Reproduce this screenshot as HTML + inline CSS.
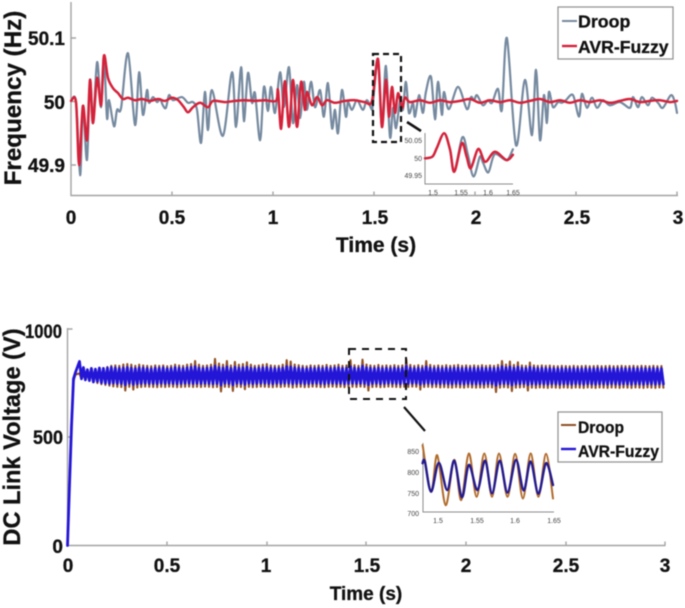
<!DOCTYPE html>
<html lang="en">
<head>
<meta charset="utf-8">
<title>Frequency and DC link voltage comparison</title>
<style>
html,body{margin:0;padding:0;background:#fff;width:685px;height:608px;overflow:hidden}
svg{display:block;filter:blur(.6px);font-family:"Liberation Sans",sans-serif}
.tick{font-weight:700;fill:#111;stroke:#111;stroke-width:.3px;font-size:19px;text-anchor:middle}
.ytick{font-weight:700;fill:#111;stroke:#111;stroke-width:.3px;font-size:19px;text-anchor:end}
.title{font-weight:700;fill:#111;stroke:#111;stroke-width:.3px}
.leg{font-weight:700;fill:#111;stroke:#111;stroke-width:.3px}
.ax{stroke:#a3a3a3;stroke-width:1.4;fill:none}
.iax{stroke:#8c8c8c;stroke-width:1;fill:none}
.it{font-size:7px;fill:#444;text-anchor:middle}
.ity{font-size:7px;fill:#444;text-anchor:end}
.c{fill:none;stroke-linejoin:round;stroke-linecap:round}
</style>
</head>
<body>
<svg width="685" height="608" viewBox="0 0 685 608" xmlns="http://www.w3.org/2000/svg">
<g>
  <path class="ax" d="M71 2V195.5H678"/>
  <path class="ax" d="M71 38h5M71 101.5h5M71 165h5M172 195.5v-4M273 195.5v-4M374 195.5v-4M475 195.5v-4M576 195.5v-4M677 195.5v-4"/>
  <path id="droopFreq" class="c" stroke="#75899f" stroke-width="2.2"/>
  <path id="fuzzyFreq" class="c" stroke="#d4223a" stroke-width="2.5"/>
  <text class="ytick" x="65" y="45">50.1</text>
  <text class="ytick" x="65" y="109">50</text>
  <text class="ytick" x="65" y="172">49.9</text>
  <text class="tick" x="71" y="224">0</text>
  <text class="tick" x="172" y="224">0.5</text>
  <text class="tick" x="273" y="224">1</text>
  <text class="tick" x="375" y="224">1.5</text>
  <text class="tick" x="476" y="224">2</text>
  <text class="tick" x="577" y="224">2.5</text>
  <text class="tick" x="678" y="224">3</text>
  <text class="title" x="376" y="252" font-size="21" text-anchor="middle">Time (s)</text>
  <text class="title" transform="translate(21 98) rotate(-90)" font-size="24.2" text-anchor="middle">Frequency (Hz)</text>
  <rect x="373" y="54" width="28" height="88" fill="none" stroke="#111" stroke-width="2.2" stroke-dasharray="6 4"/>
  <path d="M407 122L421 131" stroke="#111" stroke-width="2.6"/>
  <g>
    <path class="iax" d="M425 133V184H513"/>
    <path id="droopInset" class="c" stroke="#75899f" stroke-width="2.2"/>
    <path id="fuzzyInset" class="c" stroke="#d4223a" stroke-width="2.5"/>
    <text class="ity" x="422" y="143">50.05</text>
    <text class="ity" x="422" y="161">50</text>
    <text class="ity" x="422" y="178">49.95</text>
    <text class="it" x="433" y="195">1.5</text>
    <text class="it" x="461" y="195">1.55</text>
    <text class="it" x="488" y="195">1.6</text>
    <text class="it" x="513" y="195">1.65</text>
  </g>
  <g>
    <rect x="558" y="7" width="115" height="52" fill="#fff" stroke="#8f8f8f" stroke-width="1.2"/>
    <line x1="562" x2="577" y1="21" y2="21" stroke="#75899f" stroke-width="2"/>
    <text class="leg" x="578" y="27.5" font-size="17.8">Droop</text>
    <line x1="562" x2="577" y1="46" y2="46" stroke="#d4223a" stroke-width="2.4"/>
    <text class="leg" x="578" y="53" font-size="17.6">AVR-Fuzzy</text>
  </g>
</g>
<g>
  <path class="ax" d="M67.5 328V545.5H665.5"/>
  <path class="ax" d="M67.5 329h5M67.5 437h5M167 545.5v-4M267 545.5v-4M366 545.5v-4M466 545.5v-4M566 545.5v-4M665 545.5v-4"/>
  <path id="droopDc" class="c" stroke="#8f4f20" stroke-width="2.1"/>
  <path id="fuzzyDc" class="c" stroke="#2416d6" stroke-width="2.8"/>
  <text class="ytick" x="62" y="338" textLength="37" lengthAdjust="spacingAndGlyphs">1000</text>
  <text class="ytick" x="63" y="444" textLength="30" lengthAdjust="spacingAndGlyphs">500</text>
  <text class="ytick" x="63" y="553">0</text>
  <text class="tick" x="68" y="572">0</text>
  <text class="tick" x="167" y="572">0.5</text>
  <text class="tick" x="266" y="572">1</text>
  <text class="tick" x="367" y="572">1.5</text>
  <text class="tick" x="466" y="572">2</text>
  <text class="tick" x="566" y="572">2.5</text>
  <text class="tick" x="665" y="572">3</text>
  <text class="title" x="366" y="600" font-size="19" text-anchor="middle">Time (s)</text>
  <text class="title" transform="translate(20 437) rotate(-90)" font-size="23.6" text-anchor="middle">DC Link Voltage (V)</text>
  <rect x="349" y="349" width="57" height="50" fill="none" stroke="#111" stroke-width="2" stroke-dasharray="7 6"/>
  <path d="M404 407L425 431" stroke="#111" stroke-width="2.2"/>
  <g>
    <path class="iax" d="M423 443V512H554"/>
    <path id="droopDcInset" class="c" stroke="#b06a2a" stroke-width="2"/>
    <path id="fuzzyDcInset" class="c" stroke="#241a8c" stroke-width="2.4"/>
    <text class="ity" x="419" y="454">850</text>
    <text class="ity" x="419" y="475">800</text>
    <text class="ity" x="419" y="496">750</text>
    <text class="ity" x="419" y="516">700</text>
    <text class="it" x="438" y="523">1.5</text>
    <text class="it" x="477" y="523">1.55</text>
    <text class="it" x="515" y="523">1.6</text>
    <text class="it" x="554" y="523">1.65</text>
  </g>
  <g>
    <rect x="558" y="412" width="104" height="50" fill="#fff" stroke="#8f8f8f" stroke-width="1.2"/>
    <line x1="561" x2="576" y1="425" y2="425" stroke="#8f4f20" stroke-width="2"/>
    <text class="leg" x="578" y="433" font-size="16.5" textLength="46" lengthAdjust="spacingAndGlyphs">Droop</text>
    <line x1="561" x2="576" y1="449" y2="449" stroke="#2416d6" stroke-width="2.4"/>
    <text class="leg" x="578" y="457" font-size="16.5" textLength="81" lengthAdjust="spacingAndGlyphs">AVR-Fuzzy</text>
  </g>
</g>
</svg>
<script>
// Frequency chart data: seconds and Hz
const droopFreqTime = [0,.025,.045,.059,.079,.094,.109,.129,.149,.163,.178,.188,.213,.228,.248,.282,.317,.337,.356,.376,.386,.406,.426,.441,.455,.470,.485,.505,.549,.579,.604,.624,.644,.663,.678,.698,.752,.797,.817,.842,.856,.876,.896,.911,.936,.955,.975,.990,1.010,1.035,1.054,1.079,1.099,1.119,1.134,1.153,1.168,1.188,1.208,1.233,1.252,1.272,1.292,1.307,1.322,1.341,1.361,1.371,1.391,1.416,1.445,1.465,1.490,1.495,1.520,1.539,1.559,1.579,1.594,1.609,1.629,1.643,1.658,1.673,1.693,1.703,1.723,1.742,1.757,1.782,1.802,1.817,1.836,1.846,1.871,1.916,1.960,1.980,1.995,2.010,2.039,2.064,2.084,2.114,2.133,2.158,2.203,2.247,2.282,2.302,2.322,2.341,2.356,2.366,2.386,2.411,2.430,2.450,2.485,2.515,2.529,2.554,2.579,2.604,2.633,2.668,2.718,2.767,2.782,2.807,2.826,2.856,2.876,2.906,2.930,2.970,2.990,3];
const droopFreqHz = [50.001,49.999,49.884,49.991,49.908,50.034,49.966,50.062,49.991,50.070,49.974,50.002,49.961,49.987,49.990,50.076,49.963,50.046,49.979,50.018,49.998,50.007,49.999,50.004,49.994,49.990,50.010,50.002,50.007,49.998,49.999,49.987,49.935,50.015,49.955,50.018,49.946,50.046,49.960,50.054,49.969,50.045,49.998,50.013,49.939,50.023,49.985,50.023,49.982,50.046,49.991,50.054,49.966,50.026,49.974,50.031,49.987,50.031,49.991,50.018,49.976,50.029,49.958,49.987,49.950,50.018,49.976,49.999,49.987,50.002,49.987,50.002,49.987,49.999,50.065,49.960,50.056,49.944,49.990,49.958,50.002,49.987,50.031,49.982,49.998,49.976,50.010,49.982,50.015,50.039,49.972,50.031,49.979,50.015,49.988,50.023,49.988,50.007,50.002,50.010,49.994,50.002,49.998,50.020,49.987,50.100,49.931,50.034,49.947,50.050,49.939,50.010,49.966,50.015,49.991,49.999,49.998,50.002,50.010,49.976,50.012,49.990,50.006,49.990,50.002,49.994,49.999,49.990,50.007,49.991,50.007,49.994,50.006,49.998,49.990,50.010,49.998,49.982];
const fuzzyFreqTime = [0,.025,.040,.059,.079,.094,.109,.129,.149,.163,.183,.208,.233,.257,.282,.317,.351,.391,.431,.465,.500,.530,.559,.579,.604,.639,.678,.703,.762,.812,.861,.911,.960,1.015,1.025,1.040,1.059,1.079,1.099,1.119,1.139,1.158,1.168,1.193,1.218,1.243,1.267,1.307,1.356,1.406,1.455,1.490,1.520,1.539,1.559,1.574,1.589,1.604,1.619,1.639,1.653,1.678,1.728,1.777,1.827,1.876,1.926,1.975,2.025,2.074,2.124,2.173,2.223,2.272,2.322,2.371,2.421,2.470,2.520,2.569,2.619,2.668,2.718,2.767,2.817,2.866,2.916,2.965,3];
const fuzzyFreqHz = [50.001,49.999,49.900,49.993,49.939,50.034,49.966,50.037,49.994,50.072,50.037,50.021,50.013,50.004,50.006,50.002,50.004,50.001,50.004,50.001,50.006,50.002,49.991,49.983,49.991,49.998,49.991,50.001,49.999,50.001,50.002,50.001,50.002,50.001,50.018,49.957,50.032,49.960,50.034,49.960,50.031,49.987,50.015,49.994,50.007,49.994,50.002,49.998,50.001,50.002,49.999,50.001,50.067,49.960,50.034,49.976,50.023,49.982,50.013,49.990,50.006,49.999,50.002,49.998,50.002,49.999,50.001,50.004,49.998,50.002,49.999,50.002,49.998,50.001,50.004,49.999,50.002,49.998,50.002,49.999,50.002,49.998,50.001,50.004,49.999,50.001,50.002,49.999,50.001];

// Frequency inset data
const droopInsetTime = [1.485,1.499,1.507,1.521,1.532,1.540,1.555,1.565,1.576,1.588,1.594,1.604,1.616,1.638,1.650];
const droopInsetHz = [49.999,50.004,50.028,50.071,50.023,49.961,50.059,50.013,49.947,50.004,49.986,49.959,50.011,49.994,50.025];
const fuzzyInsetTime = [1.485,1.499,1.507,1.521,1.532,1.540,1.554,1.563,1.571,1.585,1.598,1.616,1.638,1.650];
const fuzzyInsetHz = [49.999,50.004,50.028,50.071,50.023,49.961,50.042,50.004,49.971,50.026,49.989,50.018,49.994,50.009];

// DC link data: startup ramp, then the ripple peaks and troughs in volts
const rampTime = [0,.01,.02,.03,.04];
const droopRampV = [0,290,560,760,790];
const fuzzyRampV = [0,280,550,770,800];
const droopPeaks = [795,790,800,805,800,815,820,825,830,832,
830,836,838,835,830,835,832,830,828,832,
830,832,828,830,835,832,830,835,838,852,
835,830,832,835,862,840,835,852,832,848,
835,838,846,835,830,832,835,838,832,830,
830,835,856,850,836,833,830,828,832,830,
832,830,834,830,832,835,830,832,856,833,
830,858,836,832,830,834,830,832,830,833,
830,832,860,834,830,833,830,852,834,830,
832,830,833,830,832,834,830,832,830,832,
830,833,830,832,830,834,852,836,850,834,
846,832,830,845,832,830,832,830,831,829,
828,830,829,828,830,828,829,830,828,829,
830,828,829,830,828,829,830,828,829,830,
828,830,829,828,830,828,829];
const droopTroughs = [770,765,760,755,750,745,742,738,735,733,
732,716,733,720,730,732,734,733,732,731,
733,732,734,733,731,732,733,734,732,733,
732,734,733,731,732,712,733,732,714,733,
732,722,733,731,732,734,733,732,731,733,
732,734,733,730,732,733,731,732,734,733,
732,731,733,734,732,733,731,732,733,732,
734,732,716,732,733,731,732,734,733,732,
731,733,732,734,733,720,732,733,731,732,
730,731,730,729,731,730,729,731,730,729,
730,729,731,730,709,729,731,730,713,729,
730,731,716,729,728,730,729,728,730,729,
728,730,729,728,730,729,728,730,729,728,
730,729,728,730,729,728,730,729,728,730,
729,728,730,729,728,730,729];
const fuzzyPeaks = [850,822,812,818,815,820,818,820,822,820,
818,820,822,819,817,821,820,818,816,820,
819,821,817,818,822,820,818,821,823,826,
820,818,820,821,828,822,820,825,818,823,
820,821,824,819,818,820,821,822,819,818,
818,820,827,825,821,820,818,817,819,818,
820,818,821,818,820,821,818,819,826,820,
818,828,821,819,818,820,818,819,818,820,
818,819,828,820,818,820,818,825,820,818,
819,818,820,818,819,820,818,819,818,819,
818,820,818,819,818,820,826,821,825,820,
824,819,818,823,819,818,819,818,818,817,
817,818,817,817,818,817,817,818,817,817,
818,817,817,818,817,817,818,817,817,818,
817,818,817,817,818,817,817];
const fuzzyTroughs = [770,765,762,755,758,752,750,748,750,748,
748,742,749,744,747,748,749,748,748,747,
749,748,749,748,747,748,749,749,748,749,
748,749,748,747,748,741,749,748,742,749,
748,744,749,747,748,749,749,748,747,749,
748,749,749,747,748,749,747,748,749,749,
748,747,749,749,748,749,747,748,749,748,
749,748,743,748,749,747,748,749,749,748,
747,749,748,749,749,745,748,749,747,748,
747,748,747,746,748,747,746,748,747,746,
747,746,748,747,740,746,748,747,742,746,
747,748,743,746,745,747,746,745,747,746,
745,747,746,745,747,746,745,747,746,745,
747,746,745,747,746,745,747,746,745,747,
746,745,747,746,745,747,746];

// DC link inset data
const droopDcInsetTime = [1.480,1.491,1.499,1.510,1.521,1.530,1.540,1.550,1.560,1.570,1.579,1.590,1.600,1.610,1.620,1.630,1.640,1.649];
const droopDcInsetV = [864,753,840,721,829,733,844,741,844,741,844,741,843,737,844,741,843,737];
const fuzzyDcInsetTime = [1.480,1.483,1.491,1.501,1.512,1.521,1.531,1.540,1.551,1.561,1.570,1.580,1.590,1.601,1.611,1.620,1.630,1.640,1.649];
const fuzzyDcInsetV = [821,825,753,822,757,827,740,817,757,827,749,827,751,829,756,825,748,821,769];

// Axis functions
const xFreq = t => 71 + t * 202;
const yFreq = f => 101.5 - (f - 50) * 635;
const xFreqInset = t => 433 + (t - 1.5) * 533;
const yFreqInset = f => 158 - (f - 50) * 350;
const xDc = t => 67.5 + t * 199.3;
const yDc = v => 545.5 - v * 0.2165;
const xDcInset = t => 438 + (t - 1.5) * 772;
const yDcInset = v => 472 - (v - 800) * 0.42;

function smoothPath(times, values, xf, yf) {
  const p = times.map((t, i) => [xf(t), yf(values[i])]);
  let d = 'M' + p[0][0].toFixed(1) + ' ' + p[0][1].toFixed(1);
  for (let i = 0; i < p.length - 1; i++) {
    const a = p[Math.max(i - 1, 0)], b = p[i], c = p[i + 1], e = p[Math.min(i + 2, p.length - 1)];
    const k = 0.16;
    d += 'C' + (b[0] + (c[0] - a[0]) * k).toFixed(1) + ' ' + (b[1] + (c[1] - a[1]) * k).toFixed(1) + ' ' +
         (c[0] - (e[0] - b[0]) * k).toFixed(1) + ' ' + (c[1] - (e[1] - b[1]) * k).toFixed(1) + ' ' +
         c[0].toFixed(1) + ' ' + c[1].toFixed(1);
  }
  return d;
}

function ripplePath(rampV, peaks, troughs) {
  let d = '';
  rampTime.forEach((t, i) => {
    d += (i ? 'L' : 'M') + xDc(t).toFixed(1) + ' ' + yDc(rampV[i]).toFixed(1);
  });
  peaks.forEach((v, i) => {
    const tp = 0.06 + 0.02 * i;
    d += 'L' + xDc(tp).toFixed(1) + ' ' + yDc(v).toFixed(1);
    d += 'L' + xDc(tp + 0.01).toFixed(1) + ' ' + yDc(troughs[i]).toFixed(1);
  });
  return d;
}

document.getElementById('droopFreq').setAttribute('d', smoothPath(droopFreqTime, droopFreqHz, xFreq, yFreq));
document.getElementById('fuzzyFreq').setAttribute('d', smoothPath(fuzzyFreqTime, fuzzyFreqHz, xFreq, yFreq));
document.getElementById('droopInset').setAttribute('d', smoothPath(droopInsetTime, droopInsetHz, xFreqInset, yFreqInset));
document.getElementById('fuzzyInset').setAttribute('d', smoothPath(fuzzyInsetTime, fuzzyInsetHz, xFreqInset, yFreqInset));
document.getElementById('droopDc').setAttribute('d', ripplePath(droopRampV, droopPeaks, droopTroughs));
document.getElementById('fuzzyDc').setAttribute('d', ripplePath(fuzzyRampV, fuzzyPeaks, fuzzyTroughs));
document.getElementById('droopDcInset').setAttribute('d', smoothPath(droopDcInsetTime, droopDcInsetV, xDcInset, yDcInset));
document.getElementById('fuzzyDcInset').setAttribute('d', smoothPath(fuzzyDcInsetTime, fuzzyDcInsetV, xDcInset, yDcInset));
</script>
</body>
</html>
